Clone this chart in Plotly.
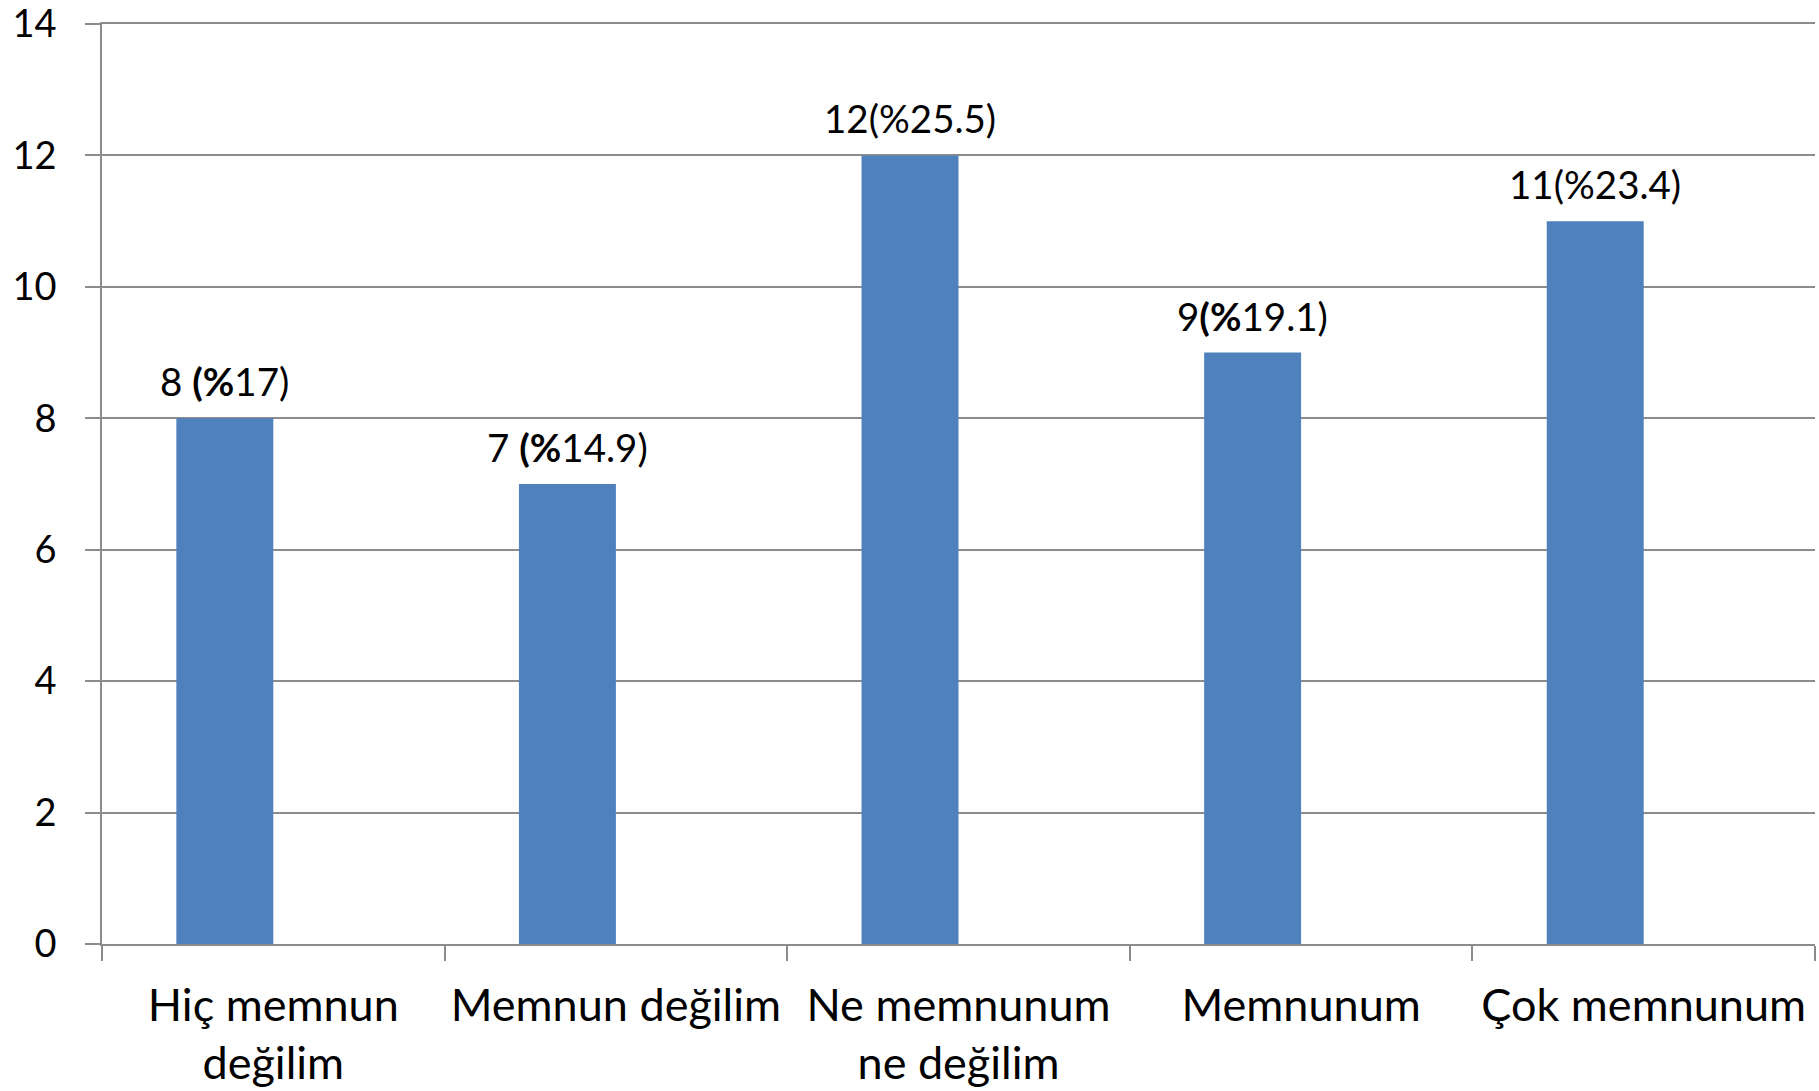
import plotly.graph_objects as go

categories = ["Hiç memnun<br>değilim", "Memnun değilim", "Ne memnunum<br>ne değilim", "Memnunum", "Çok memnunum"]
counts = [8, 7, 12, 9, 11]
labels = ["8 <b>(%</b>17)", "7 <b>(%</b>14.9)", "12(%25.5)", "9<b>(%</b>19.1)", "11(%23.4)"]
y_ticks = [0, 2, 4, 6, 8, 10, 12, 14]

FONT = "Lato, 'Open Sans', sans-serif"
GRID = "#8c8c8c"
BAR_W = 0.283  # bar occupies the left half-slot of each category (empty second series)

fig = go.Figure()
fig.add_trace(go.Bar(
    x=categories, y=counts,
    marker=dict(color="#4F81BD", line=dict(width=0)),
    width=BAR_W, offset=-BAR_W,
    showlegend=False, hoverinfo="skip",
))

for i, (v, t) in enumerate(zip(counts, labels)):
    fig.add_annotation(x=i - BAR_W / 2, y=v, text=t, showarrow=False, yanchor="bottom",
                       yshift=12, font=dict(family=FONT, size=38.5, color="black"))

fig.update_layout(
    width=1819, height=1091,
    margin=dict(l=102, r=4, t=24, b=147),
    paper_bgcolor="white", plot_bgcolor="white",
    font=dict(family=FONT, color="black"),
)
fig.update_yaxes(
    range=[0, 14], tickvals=y_ticks, showgrid=True, gridcolor=GRID, gridwidth=1.5,
    showline=True, linecolor=GRID, linewidth=1.5,
    ticks="outside", ticklen=15, tickcolor=GRID, tickwidth=1.5,
    ticklabelstandoff=21, tickfont=dict(family=FONT, size=38, color="black"),
    ticklabeloverflow="allow",
    zeroline=False, fixedrange=True, automargin=False,
)
fig.update_xaxes(
    showline=True, mirror=True, linecolor=GRID, linewidth=1.5,
    ticks="outside", ticklen=15, tickcolor=GRID, tickwidth=1.5,
    tickson="boundaries", showgrid=False,
    ticklabelstandoff=21, tickfont=dict(family=FONT, size=45, color="black"),
    fixedrange=True, automargin=False,
)

fig.write_html("out.html", config={"displayModeBar": False},
               post_script="document.body.style.margin='0px';")
